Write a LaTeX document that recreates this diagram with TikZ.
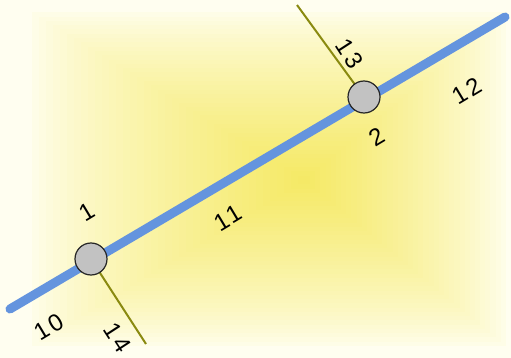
\documentclass[tikz,border=0pt]{standalone}
\usepackage{fontspec}
\setmainfont{Liberation Sans}[LetterSpace=14]
\definecolor{cream}{HTML}{FFFEF0}
\definecolor{yel}{HTML}{F5E964}
\definecolor{roadblue}{HTML}{6494DE}
\definecolor{olive}{HTML}{8A8A10}
\definecolor{nodegray}{HTML}{C2C2C2}
\begin{document}
\begin{tikzpicture}[x=1pt,y=-1pt,
  junction/.style={circle,draw=black!85,line width=1.2pt,fill=nodegray,minimum size=32pt,inner sep=0pt},
  road/.style={roadblue,line width=9pt,line cap=round},
  spur/.style={olive,line width=2pt},
  lbl/.style={font=\fontsize{24}{24}\selectfont,inner sep=0pt}]
\useasboundingbox (0,0) rectangle (511,358);
\fill[cream] (0,0) rectangle (511,358);
\foreach \i in {0,...,40}{
  \pgfmathsetmacro\t{\i/40}
  \pgfmathsetmacro\p{100*\t^0.75}
  \pgfmathsetmacro\xa{305-280*(1-\t)}
  \pgfmathsetmacro\ya{180-172*(1-\t)}
  \pgfmathsetmacro\xb{305+206*(1-\t)}
  \pgfmathsetmacro\yb{180+170*(1-\t)}
  \fill[yel!\p!cream] (\xa,\ya) rectangle (\xb,\yb);
}
\coordinate (a) at (10,309);
\coordinate (b) at (505,17);
\coordinate (c) at (297,5);
\coordinate (d) at (146,344);
\coordinate (p1) at (91,259);
\coordinate (p2) at (364,97);
\draw[road] (a) -- (b);
\draw[spur] (c) -- (p2);
\draw[spur] (p1) -- (d);
\node[junction] (n1) at (p1) {};
\node[junction] (n2) at (p2) {};
\node[lbl,rotate=31] (l1) at (87,212) {1};
\node[lbl,rotate=31] (l2) at (377,137) {2};
\node[lbl,rotate=31] (l10) at (49,327) {10};
\node[lbl,rotate=31] (l11) at (228,218) {11};
\node[lbl,rotate=31] (l12) at (467,91) {12};
\node[lbl,rotate=-57] (l13) at (350,54) {13};
\node[lbl,rotate=-57] (l14) at (118,338) {14};
\end{tikzpicture}
\end{document}
